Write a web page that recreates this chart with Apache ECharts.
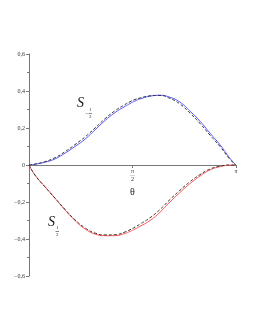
<!DOCTYPE html>
<html><head><meta charset="utf-8">
<script src="https://cdn.jsdelivr.net/npm/echarts@6/dist/echarts.min.js"></script>
<style>html,body{margin:0;padding:0;background:#fff}#c{width:255px;height:330px}</style>
</head><body><div id="c"></div>
<script>
// theta positions as fractions of pi
const thetaFrac = [0, 0.029, 0.077, 0.126, 0.174, 0.222, 0.271, 0.319, 0.367, 0.415, 0.464, 0.488, 0.512, 0.536, 0.585, 0.633, 0.681, 0.729, 0.778, 0.826, 0.874, 0.923, 0.971, 1];
const blueVals   = [0, 0.004, 0.015, 0.033, 0.064, 0.100, 0.140, 0.190, 0.240, 0.283, 0.317, 0.332, 0.346, 0.357, 0.372, 0.377, 0.366, 0.340, 0.291, 0.237, 0.173, 0.109, 0.036, 0];
const dashUpVals = [0, 0.005, 0.018, 0.040, 0.072, 0.110, 0.152, 0.200, 0.250, 0.293, 0.327, 0.342, 0.354, 0.362, 0.374, 0.376, 0.360, 0.330, 0.280, 0.225, 0.162, 0.100, 0.030, 0];
const redVals    = [0, -0.054, -0.117, -0.180, -0.243, -0.300, -0.346, -0.373, -0.382, -0.382, -0.370, -0.359, -0.346, -0.332, -0.300, -0.255, -0.200, -0.149, -0.100, -0.060, -0.027, -0.009, -0.001, 0];
const dashLoVals = [0, -0.055, -0.118, -0.180, -0.240, -0.296, -0.340, -0.368, -0.378, -0.377, -0.362, -0.350, -0.336, -0.320, -0.285, -0.240, -0.187, -0.137, -0.090, -0.052, -0.022, -0.006, 0, 0];
const yTicks = [-0.6, -0.4, -0.2, 0, 0.2, 0.4, 0.6];

const pair = vals => thetaFrac.map((t, i) => [t * Math.PI, vals[i]]);
const chart = echarts.init(document.getElementById('c'));
const axisCol = '#777';
const gridTop = 54, gridBottom = 54, H = 330;
// offset so that the x axis sits at y = 0 (middle of the symmetric y range)
const xOffset = -((H - gridTop - gridBottom) / 2);
chart.setOption({
  animation: false,
  grid: {left: 29, right: 19, top: gridTop, bottom: gridBottom},
  xAxis: {
    type: 'value', min: 0, max: Math.PI, interval: Math.PI / 2,
    offset: xOffset,
    axisLine: {onZero: false, lineStyle: {color: axisCol, width: 1}},
    axisTick: {show: true, inside: false, length: 3, lineStyle: {color: axisCol}},
    splitLine: {show: false},
    name: 'θ', nameLocation: 'middle', nameGap: 19,
    nameTextStyle: {fontFamily: 'Liberation Serif', fontSize: 10, color: '#222'},
    axisLabel: {
      margin: 4, color: '#333', fontFamily: 'Liberation Serif',
      formatter: v => {
        if (Math.abs(v - Math.PI / 2) < 1e-6) return '{n|π}\n{l|—}\n{d|2}';
        if (Math.abs(v - Math.PI) < 1e-6) return '{n|π}';
        return '';
      },
      rich: {
        n: {fontSize: 6, lineHeight: 5, fontFamily: 'Liberation Serif', color: '#333'},
        l: {fontSize: 5, lineHeight: 2, fontFamily: 'Liberation Serif', color: '#333'},
        d: {fontSize: 6, lineHeight: 6, fontFamily: 'Liberation Serif', color: '#333'}
      }
    }
  },
  yAxis: {
    type: 'value', min: -0.6, max: 0.6, interval: 0.2,
    axisLine: {show: true, lineStyle: {color: axisCol, width: 1}},
    axisTick: {show: true, length: 3, lineStyle: {color: axisCol}},
    minorTick: {show: true, splitNumber: 2, length: 2, lineStyle: {color: axisCol}},
    splitLine: {show: false},
    axisLabel: {
      margin: 4, fontSize: 6, color: '#333', fontFamily: 'Liberation Serif',
      formatter: v => {
        const r = Math.round(v * 10) / 10;
        if (r === 0) return '0';
        const s = Math.abs(r).toFixed(1).replace('.', ',');
        return (r < 0 ? '−' : '') + s;
      }
    }
  },
  series: [
    {type: 'line', data: pair(blueVals), smooth: true, symbol: 'none', lineStyle: {color: '#5a5aff', width: 1}, z: 2},
    {type: 'line', data: pair(dashUpVals), smooth: true, symbol: 'none', lineStyle: {color: '#333', width: 1, type: [3, 2]}, z: 3},
    {type: 'line', data: pair(redVals), smooth: true, symbol: 'none', lineStyle: {color: '#ff5a5a', width: 1}, z: 2},
    {type: 'line', data: pair(dashLoVals), smooth: true, symbol: 'none', lineStyle: {color: '#333', width: 1, type: [3, 2]}, z: 3}
  ],
  graphic: [
    {type: 'text', left: 77, top: 96, style: {text: 'S', font: 'italic 14px "Liberation Serif"', fill: '#111'}},
    {type: 'text', left: 85, top: 110, style: {text: '−', font: '6px "Liberation Serif"', fill: '#333'}},
    {type: 'text', left: 89, top: 107, style: {text: '1', font: '5px "Liberation Serif"', fill: '#333'}},
    {type: 'line', shape: {x1: 88.5, y1: 113.5, x2: 92, y2: 113.5}, style: {stroke: '#333', lineWidth: 0.6}},
    {type: 'text', left: 89, top: 114, style: {text: '2', font: '5px "Liberation Serif"', fill: '#333'}},
    {type: 'text', left: 48, top: 215, style: {text: 'S', font: 'italic 14px "Liberation Serif"', fill: '#111'}},
    {type: 'text', left: 56, top: 225, style: {text: '1', font: '5px "Liberation Serif"', fill: '#333'}},
    {type: 'line', shape: {x1: 55.5, y1: 231.5, x2: 59, y2: 231.5}, style: {stroke: '#333', lineWidth: 0.6}},
    {type: 'text', left: 56, top: 232, style: {text: '2', font: '5px "Liberation Serif"', fill: '#333'}}
  ]
});
</script></body></html>
